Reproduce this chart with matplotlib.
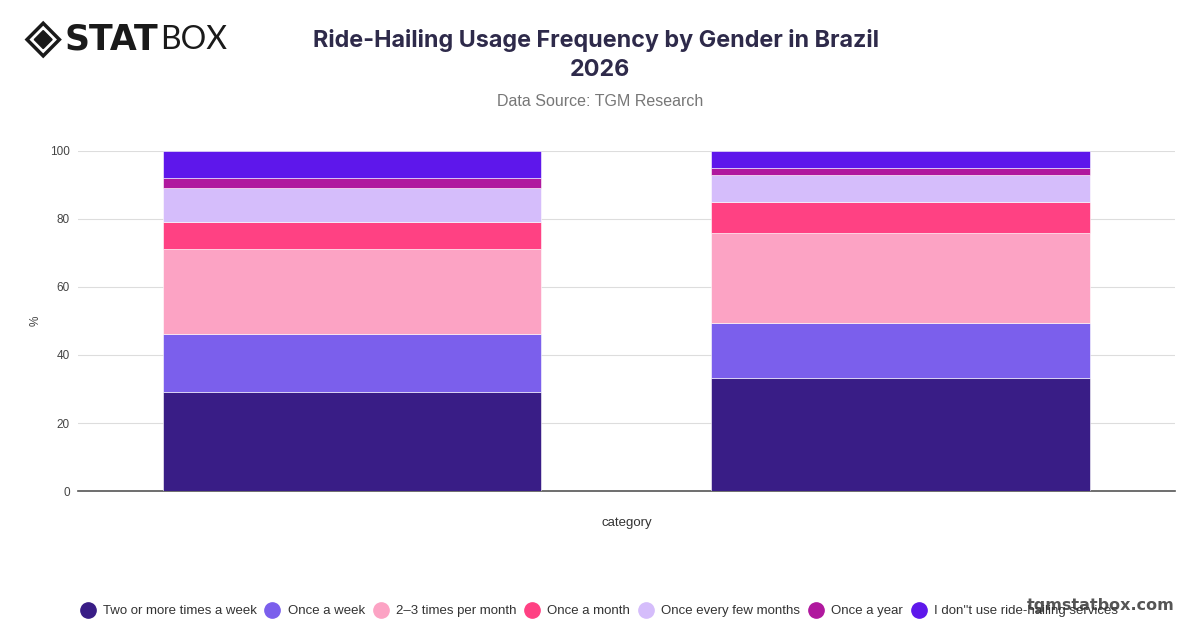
import matplotlib
matplotlib.use("Agg")
import matplotlib.pyplot as plt
from matplotlib.lines import Line2D
from matplotlib.patches import Polygon
import numpy as np

# values (percent, two columns)
categories = ["", ""]
series_names = [
    "Two or more times a week",
    "Once a week",
    "2\u20133 times per month",
    "Once a month",
    "Once every few months",
    "Once a year",
    "I don''t use ride-hailing services",
]
two_plus_week = [29.0, 33.3]
once_week = [17.1, 16.2]
two_three_month = [25.0, 26.2]
once_month = [7.9, 9.1]
few_months = [10.0, 8.0]
once_year = [3.1, 2.2]
dont_use = [7.9, 5.0]
colors = ["#391d86", "#7b5fec", "#fca3c4", "#ff4183", "#d5bdfb", "#b0189e", "#5e17eb"]

series = [two_plus_week, once_week, two_three_month, once_month,
          few_months, once_year, dont_use]

plt.rcParams['font.family'] = ['Liberation Sans', 'DejaVu Sans']

fig = plt.figure(figsize=(12, 6.28), dpi=100)
ax = fig.add_axes([0.065, 0.218, 0.914, 0.542])

x = np.arange(len(categories))
bottom = np.zeros(len(categories))
for vals, col, name in zip(series, colors, series_names):
    ax.bar(x, vals, bottom=bottom, width=0.69, color=col, label=name,
           edgecolor='white', linewidth=0.4, zorder=3)
    bottom += np.array(vals)

ax.set_xlim(-0.5, 1.5)
ax.set_ylim(0, 100)
ax.set_yticks([0, 20, 40, 60, 80, 100])
ax.set_xticks(x)
ax.set_xticklabels(categories)
ax.tick_params(axis='y', length=0, labelsize=8.5, colors='#444444', pad=6)
ax.tick_params(axis='x', length=0)
ax.grid(axis='y', color='#dddddd', linewidth=0.8, zorder=0)
for s in ['top', 'right', 'left']:
    ax.spines[s].set_visible(False)
ax.spines['bottom'].set_color('#555555')
ax.spines['bottom'].set_linewidth(1.2)
ax.set_xlabel("category", fontsize=9.5, color='#333333', labelpad=15)
ax.set_ylabel("%", fontsize=8.5, color='#444444', labelpad=6)

# titles
fig.text(0.497, 0.935, "Ride-Hailing Usage Frequency by Gender in Brazil",
         ha='center', va='center', fontsize=16.8, fontweight='bold',
         color='#2e2a4a', family='Inter')
fig.text(0.5, 0.888, "2026", ha='center', va='center', fontsize=16.8,
         fontweight='bold', color='#2e2a4a', family='Inter')
fig.text(0.5, 0.838, "Data Source: TGM Research", ha='center', va='center',
         fontsize=11.5, color='#777777')

# legend
handles = [Line2D([0], [0], marker='o', color='none', markerfacecolor=c,
                  markeredgecolor=c, markersize=11) for c in colors]
fig.legend(handles, series_names, loc='center', bbox_to_anchor=(0.499, 0.027),
           ncol=7, frameon=False, fontsize=9.5, handletextpad=0.55,
           columnspacing=0.6, handlelength=1.2, labelcolor='#333333')

# watermark
fig.text(0.979, 0.036, "tgmstatbox.com", ha='right', va='center',
         fontsize=11.5, fontweight='bold', color='#555555', family='DejaVu Sans')

# logo
cx, cy = 0.036, 0.937
dx, dy = 0.0135, 0.026
outer = Polygon([[cx - dx, cy], [cx, cy + dy], [cx + dx, cy], [cx, cy - dy]],
                closed=True, fill=False, edgecolor='#1a1a1a', linewidth=2.5,
                transform=fig.transFigure)
inner = Polygon([[cx - dx * 0.55, cy], [cx, cy + dy * 0.55],
                 [cx + dx * 0.55, cy], [cx, cy - dy * 0.55]],
                closed=True, color='#1a1a1a', transform=fig.transFigure)
fig.patches.extend([outer, inner])
fig.text(0.054, 0.937, "STAT", ha='left', va='center', fontsize=25,
         fontweight='black', color='#1a1a1a', family='DejaVu Sans')
fig.text(0.1335, 0.937, "BOX", ha='left', va='center', fontsize=23,
         fontweight='normal', color='#1a1a1a', family='Lato')

fig.savefig("out.png", dpi=100)
